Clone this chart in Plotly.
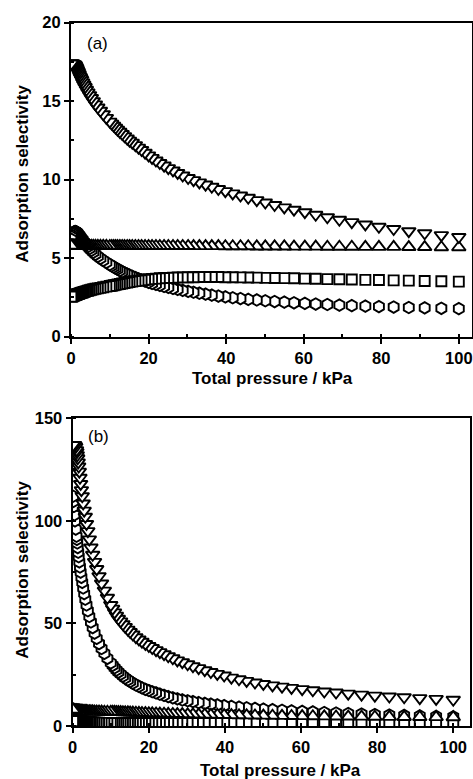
import plotly.graph_objects as go

# Total pressure grid (kPa)
P = [100, 95.5, 91.2, 87.1, 83.2, 79.4, 75.9, 72.4, 69.2, 66.1,
     63.1, 60.3, 57.5, 55.0, 52.5, 50.1, 47.9, 45.7, 43.7, 41.7,
     39.8, 38.0, 36.3, 34.7, 33.1, 31.6, 30.2, 28.8, 27.5, 26.3,
     25.1, 24.0, 22.9, 21.9, 20.9, 20.0, 19.1, 18.2, 17.4, 16.6,
     15.8, 15.1, 14.5, 13.8, 13.2, 12.6, 12.0, 11.5, 11.0, 10.5, 10.0,
     9.12, 8.32, 7.59, 6.92, 6.31, 5.75, 5.25, 4.79, 4.37, 3.98,
     3.63, 3.31, 3.02, 2.75, 2.51, 2.29, 2.09, 1.91, 1.74, 1.58,
     1.45, 1.32, 1.20, 1.10, 1.00,
     0.80, 0.60, 0.45, 0.30, 0.20, 0.10]

# Panel (a)
a_down = [6.35, 6.47, 6.59, 6.72, 6.86, 7.00, 7.15, 7.30, 7.45, 7.61,
          7.77, 7.93, 8.09, 8.24, 8.39, 8.55, 8.70, 8.85, 8.99, 9.13,
          9.27, 9.41, 9.55, 9.69, 9.83, 9.97, 10.11, 10.27, 10.43, 10.59,
          10.74, 10.90, 11.06, 11.22, 11.39, 11.55, 11.72, 11.89, 12.04, 12.20,
          12.36, 12.49, 12.62, 12.77, 12.91, 13.05, 13.19, 13.31, 13.44, 13.57, 13.70,
          13.94, 14.17, 14.39, 14.60, 14.80, 15.00, 15.20, 15.38, 15.56, 15.73,
          15.90, 16.05, 16.20, 16.35, 16.48, 16.60, 16.72, 16.83, 16.93, 17.02,
          17.10, 17.17, 17.23, 17.28, 17.32,
          17.36, 17.38, 17.40, 17.40, 17.40, 17.40]
a_up = [5.70, 5.70, 5.71, 5.71, 5.72, 5.72, 5.72, 5.73, 5.73, 5.73,
        5.74, 5.74, 5.74, 5.75, 5.75, 5.75, 5.75, 5.76, 5.76, 5.76,
        5.76, 5.77, 5.77, 5.77, 5.77, 5.77, 5.78, 5.78, 5.78, 5.78,
        5.78, 5.78, 5.78, 5.78, 5.78, 5.78, 5.78, 5.78, 5.78, 5.78,
        5.78, 5.78, 5.78, 5.78, 5.78, 5.78, 5.78, 5.78, 5.78, 5.78, 5.78,
        5.79, 5.79, 5.79, 5.79, 5.79, 5.79, 5.79, 5.79, 5.79, 5.79,
        5.79, 5.79, 5.79, 5.79, 5.79, 5.79, 5.79, 5.79, 5.79, 5.79,
        5.79, 5.79, 5.79, 5.79, 5.79,
        5.80, 5.80, 5.80, 5.80, 5.80, 5.80]
a_square = [3.51, 3.53, 3.55, 3.57, 3.59, 3.61, 3.62, 3.64, 3.66, 3.67,
            3.69, 3.70, 3.72, 3.73, 3.74, 3.75, 3.76, 3.77, 3.78, 3.79,
            3.79, 3.80, 3.80, 3.80, 3.80, 3.79, 3.79, 3.78, 3.77, 3.76,
            3.75, 3.74, 3.72, 3.70, 3.68, 3.66, 3.63, 3.60, 3.57, 3.54,
            3.51, 3.48, 3.45, 3.42, 3.39, 3.36, 3.33, 3.30, 3.28, 3.25, 3.23,
            3.19, 3.15, 3.11, 3.08, 3.05, 3.02, 2.99, 2.96, 2.93, 2.90,
            2.87, 2.85, 2.82, 2.80, 2.78, 2.76, 2.74, 2.73, 2.71, 2.70,
            2.68, 2.67, 2.66, 2.65, 2.64,
            2.62, 2.60, 2.58, 2.57, 2.56, 2.55]
a_hex = [1.79, 1.81, 1.84, 1.86, 1.89, 1.92, 1.95, 1.98, 2.01, 2.05,
         2.08, 2.12, 2.16, 2.20, 2.24, 2.29, 2.34, 2.38, 2.43, 2.48,
         2.54, 2.59, 2.65, 2.71, 2.77, 2.83, 2.89, 2.95, 3.01, 3.07,
         3.14, 3.20, 3.27, 3.33, 3.39, 3.46, 3.54, 3.62, 3.69, 3.77,
         3.85, 3.92, 3.99, 4.07, 4.14, 4.22, 4.30, 4.37, 4.44, 4.52, 4.60,
         4.73, 4.86, 4.99, 5.12, 5.25, 5.38, 5.50, 5.62, 5.74, 5.85,
         5.96, 6.06, 6.16, 6.25, 6.33, 6.40, 6.46, 6.52, 6.58, 6.62,
         6.66, 6.68, 6.70, 6.70, 6.70,
         6.68, 6.62, 6.55, 6.45, 6.35, 6.20]

# Panel (b)
b_down = [12.8, 13.2, 13.6, 14.0, 14.4, 14.8, 15.3, 15.8, 16.3, 16.8,
          17.4, 18.0, 18.6, 19.2, 19.8, 20.5, 21.2, 22.0, 22.8, 23.6,
          24.6, 25.4, 26.3, 27.2, 28.2, 29.1, 30.1, 31.1, 32.0, 33.0,
          34.0, 35.0, 36.0, 37.0, 38.0, 39.0, 40.0, 41.1, 42.2, 43.3,
          44.6, 45.8, 47.0, 48.3, 49.6, 51.0, 52.3, 53.8, 55.4, 57.2, 59.0,
          62.5, 66.0, 69.5, 73.0, 76.5, 80.0, 83.5, 87.0, 91.0, 95.0,
          98.5, 102.0, 105.0, 108.5, 112.0, 115.0, 118.0, 121.0, 124.0, 126.5,
          128.5, 130.5, 132.0, 133.5, 134.5,
          136.0, 136.8, 137.0, 137.0, 137.0, 137.0]
b_up = [4.30, 4.34, 4.38, 4.42, 4.46, 4.50, 4.55, 4.60, 4.65, 4.70,
        4.75, 4.80, 4.86, 4.92, 4.98, 5.04, 5.10, 5.16, 5.22, 5.28,
        5.34, 5.40, 5.46, 5.52, 5.58, 5.64, 5.70, 5.76, 5.82, 5.88,
        5.94, 6.00, 6.06, 6.12, 6.18, 6.24, 6.30, 6.36, 6.42, 6.48,
        6.54, 6.58, 6.62, 6.66, 6.70, 6.74, 6.78, 6.82, 6.86, 6.88, 6.90,
        6.93, 6.96, 6.99, 7.02, 7.05, 7.08, 7.11, 7.14, 7.17, 7.20,
        7.23, 7.26, 7.29, 7.32, 7.35, 7.38, 7.41, 7.44, 7.47, 7.50,
        7.52, 7.54, 7.56, 7.58, 7.60,
        7.65, 7.70, 7.75, 7.82, 7.90, 8.00]
b_square = [1.60, 1.60, 1.59, 1.59, 1.58, 1.58, 1.57, 1.57, 1.56, 1.56,
            1.55, 1.55, 1.54, 1.54, 1.53, 1.53, 1.52, 1.52, 1.51, 1.51,
            1.50, 1.50, 1.49, 1.49, 1.48, 1.48, 1.47, 1.47, 1.46, 1.46,
            1.45, 1.45, 1.44, 1.44, 1.43, 1.43, 1.42, 1.42, 1.41, 1.41,
            1.40, 1.40, 1.40, 1.40, 1.40, 1.40, 1.40, 1.40, 1.40, 1.40, 1.40,
            1.42, 1.45, 1.50, 1.56, 1.63, 1.70, 1.78, 1.86, 1.94, 2.01,
            2.07, 2.12, 2.16, 2.19, 2.22, 2.24, 2.26, 2.28, 2.29, 2.30,
            2.31, 2.32, 2.33, 2.34, 2.35,
            2.36, 2.37, 2.38, 2.39, 2.40, 2.40]
b_hex = [4.50, 4.70, 4.92, 5.14, 5.37, 5.60, 5.84, 6.08, 6.33, 6.58,
         6.84, 7.10, 7.38, 7.66, 7.95, 8.25, 8.56, 8.88, 9.21, 9.55,
         9.90, 10.25, 10.62, 11.0, 11.4, 11.9, 12.3, 12.7, 13.2, 13.7,
         14.3, 14.9, 15.5, 16.1, 16.7, 17.3, 17.9, 18.6, 19.3, 20.0,
         20.9, 21.7, 22.5, 23.4, 24.3, 25.3, 26.3, 27.3, 28.4, 29.6, 30.8,
         33.0, 35.4, 37.8, 40.2, 42.7, 45.3, 48.0, 50.7, 53.4, 56.2,
         59.0, 61.8, 64.5, 67.3, 70.0, 72.5, 75.0, 77.5, 80.0, 82.5,
         84.7, 87.0, 89.2, 91.0, 92.5,
         96.0, 100.0, 103.0, 107.0, 109.5, 112.0]

for arr in (a_down, a_up, a_square, a_hex, b_down, b_up, b_square, b_hex):
    assert len(arr) == len(P), len(arr)

FONT = "Liberation Sans, Arial, sans-serif"

def series(y, symbol, size, xa, ya):
    return go.Scatter(
        x=P, y=y, mode="markers", xaxis=xa, yaxis=ya, showlegend=False,
        marker=dict(symbol=symbol, size=size, color="white",
                    line=dict(color="black", width=1.9)))

fig = go.Figure()
for xa, ya, hexv, sq, up, down in (("x", "y", a_hex, a_square, a_up, a_down),
                                   ("x2", "y2", b_hex, b_square, b_up, b_down)):
    fig.add_trace(series(hexv, "hexagon", 11.5, xa, ya))
    fig.add_trace(series(sq, "square", 10, xa, ya))
    fig.add_trace(series(up, "triangle-up", 12, xa, ya))
    fig.add_trace(series(down, "triangle-down", 12, xa, ya))

tickfont = dict(family=FONT, size=16.5, color="black", weight="bold")

def xax(domain, rng, anchor):
    return dict(domain=domain, range=rng, anchor=anchor,
                tickvals=[0, 20, 40, 60, 80, 100], ticks="outside", ticklen=5,
                tickwidth=2, tickcolor="black", linewidth=2.2, linecolor="black",
                mirror=True, showgrid=False, zeroline=False, tickfont=tickfont,
                minor=dict(ticks="inside", ticklen=3, tickwidth=1.5,
                           tickcolor="black", dtick=10, tick0=0, showgrid=False),
                automargin=False)

def yax(domain, rng, dtick, anchor):
    return dict(domain=domain, range=rng, anchor=anchor, dtick=dtick, tick0=0,
                ticks="outside", ticklen=5, tickwidth=2, tickcolor="black",
                linewidth=2.2, linecolor="black", mirror=True, showgrid=False,
                zeroline=False, tickfont=tickfont,
                minor=dict(ticks="inside", ticklen=3, tickwidth=1.5,
                           tickcolor="black", dtick=dtick / 2, tick0=0,
                           showgrid=False),
                automargin=False)

W, H = 473, 779
fig.update_layout(
    width=W, height=H, margin=dict(l=0, r=0, t=0, b=0),
    paper_bgcolor="white", plot_bgcolor="white", template="none",
    xaxis=xax([71 / W, 472 / W], [0, 103.4], "y"),
    yaxis=yax([1 - 336.7 / H, 1 - 22.7 / H], [0, 20], 5, "x"),
    xaxis2=xax([72.7 / W, 470 / W], [0, 104.4], "y2"),
    yaxis2=yax([1 - 726 / H, 1 - 418.3 / H], [0, 150], 50, "x2"),
)

titlefont = dict(family=FONT, size=17, color="black", weight="bold")
ann = [
    dict(text="Total pressure / kPa", x=190 / W, y=1 - 378 / H, font=titlefont,
         xanchor="left"),
    dict(text="Total pressure / kPa", x=198 / W, y=1 - 770 / H, font=titlefont,
         xanchor="left"),
    dict(text="Adsorption selectivity", x=21.7 / W, y=1 - 174 / H,
         font=titlefont, textangle=-90, xanchor="center"),
    dict(text="Adsorption selectivity", x=21.7 / W, y=1 - 570 / H,
         font=titlefont, textangle=-90, xanchor="center"),
    dict(text="(a)", x=97.7 / W, y=1 - 43.3 / H, xanchor="center",
         font=dict(family=FONT, size=17, color="black")),
    dict(text="(b)", x=98.3 / W, y=1 - 436.7 / H, xanchor="center",
         font=dict(family=FONT, size=17, color="black")),
]
for a in ann:
    a.update(xref="paper", yref="paper", showarrow=False, yanchor="middle")
fig.update_layout(annotations=ann)

fig.write_html("out.html")
